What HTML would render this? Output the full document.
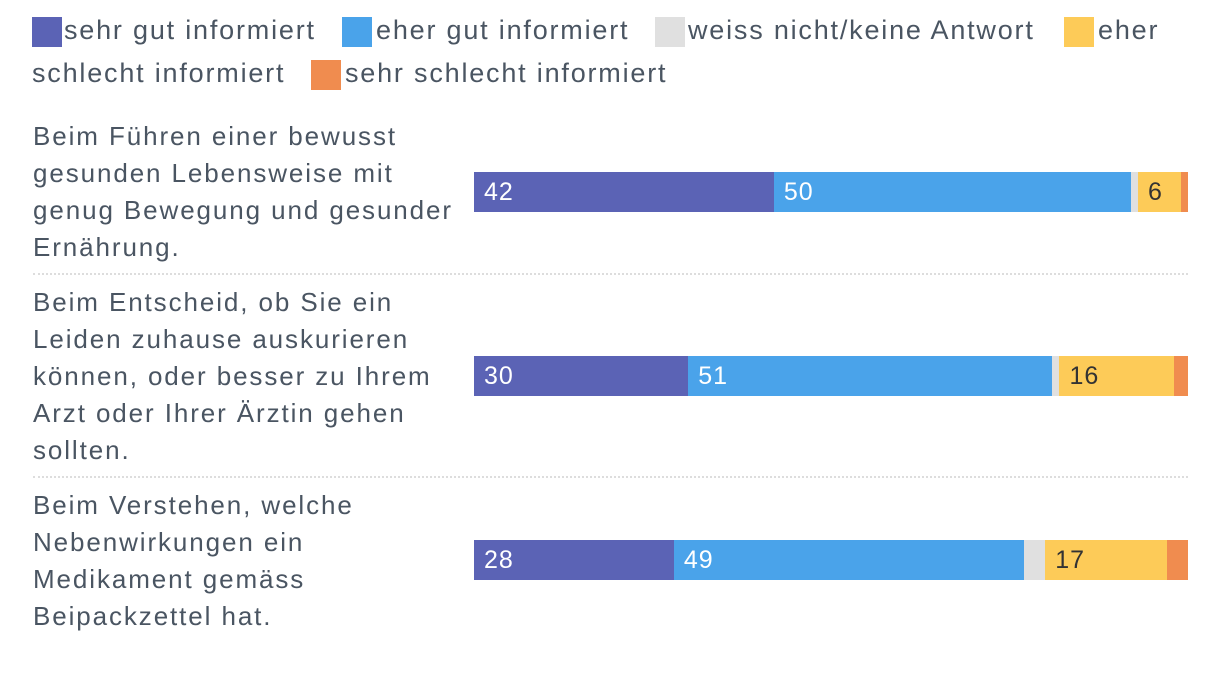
<!DOCTYPE html>
<html><head><meta charset="utf-8"><style>
body{margin:0;width:1220px;height:684px;background:#fff;font-family:"Liberation Sans",sans-serif;color:#4a5562;position:relative;overflow:hidden}
.lg{position:absolute;font-size:27px;white-space:nowrap;letter-spacing:1.8px}
.sq{position:absolute;width:30px;height:30px}
.lab{position:absolute;left:33px;width:440px;font-size:26px;line-height:37px;letter-spacing:1.9px;white-space:nowrap}
.sep{position:absolute;left:33px;width:1155px;border-top:2px dotted #ddd}
.seg{position:absolute;height:40px}
.val{position:absolute;font-size:25px;line-height:40px;letter-spacing:1px}
</style></head><body>
<div>
<div class="sq" style="left:32px;top:17px;background:#5b63b5"></div>
<div class="lg" style="left:64px;top:15px">sehr gut informiert</div>
<div class="sq" style="left:342px;top:17px;background:#4aa3ea"></div>
<div class="lg" style="left:376px;top:15px">eher gut informiert</div>
<div class="sq" style="left:655px;top:17px;background:#e0e0e0"></div>
<div class="lg" style="left:688px;top:15px">weiss nicht/keine Antwort</div>
<div class="sq" style="left:1064px;top:17px;background:#fdcb58"></div>
<div class="lg" style="left:1098px;top:15px">eher</div>
<div class="lg" style="left:32px;top:58px">schlecht informiert</div>
<div class="sq" style="left:311px;top:60px;background:#f08c4f"></div>
<div class="lg" style="left:345px;top:58px">sehr schlecht informiert</div>
</div>
<div class="lab" style="top:118px">Beim Führen einer bewusst<br>gesunden Lebensweise mit<br>genug Bewegung und gesunder<br>Ernährung.</div>
<div class="sep" style="top:273px"></div>
<div class="lab" style="top:284px">Beim Entscheid, ob Sie ein<br>Leiden zuhause auskurieren<br>können, oder besser zu Ihrem<br>Arzt oder Ihrer Ärztin gehen<br>sollten.</div>
<div class="sep" style="top:476px"></div>
<div class="lab" style="top:487px">Beim Verstehen, welche<br>Nebenwirkungen ein<br>Medikament gemäss<br>Beipackzettel hat.</div>
<div id="bars"></div>
<script>
const series=["sehr gut","eher gut","weiss nicht","eher schlecht","sehr schlecht"];
const sehrGut=[42,30,28];
const eherGut=[50,51,49];
const weissNicht=[1,1,3];
const eherSchlecht=[6,16,17];
const sehrSchlecht=[1,2,3];
const colors=["#5b63b5","#4aa3ea","#e0e0e0","#fdcb58","#f08c4f"];
const showLabel=[true,true,false,true,false];
const x0=474,x1=1188;
const rowTop=[172,356,540];
function xs(v){return (x1-x0)*v/100;}
const root=document.getElementById('bars');
const data=[sehrGut,eherGut,weissNicht,eherSchlecht,sehrSchlecht];
for(let r=0;r<3;r++){
  let total=0;for(const s of data)total+=s[r];
  let acc=0;
  for(let k=0;k<5;k++){
    const v=data[k][r]*100/total;
    const d=document.createElement('div');
    d.className='seg';
    d.style.left=(x0+xs(acc))+'px';d.style.width=xs(v)+'px';d.style.top=rowTop[r]+'px';d.style.background=colors[k];
    
    
    root.appendChild(d);
    if(showLabel[k]){
      const t=document.createElement('div');
      t.className='val';
      t.textContent=data[k][r];
      t.style.left=(x0+xs(acc)+10)+'px';t.style.top=rowTop[r]+'px';
      t.style.color=k===3?'#333':'#fff';
      
      
      root.appendChild(t);
    }
    acc+=v;
  }
}
</script>
</body></html>
